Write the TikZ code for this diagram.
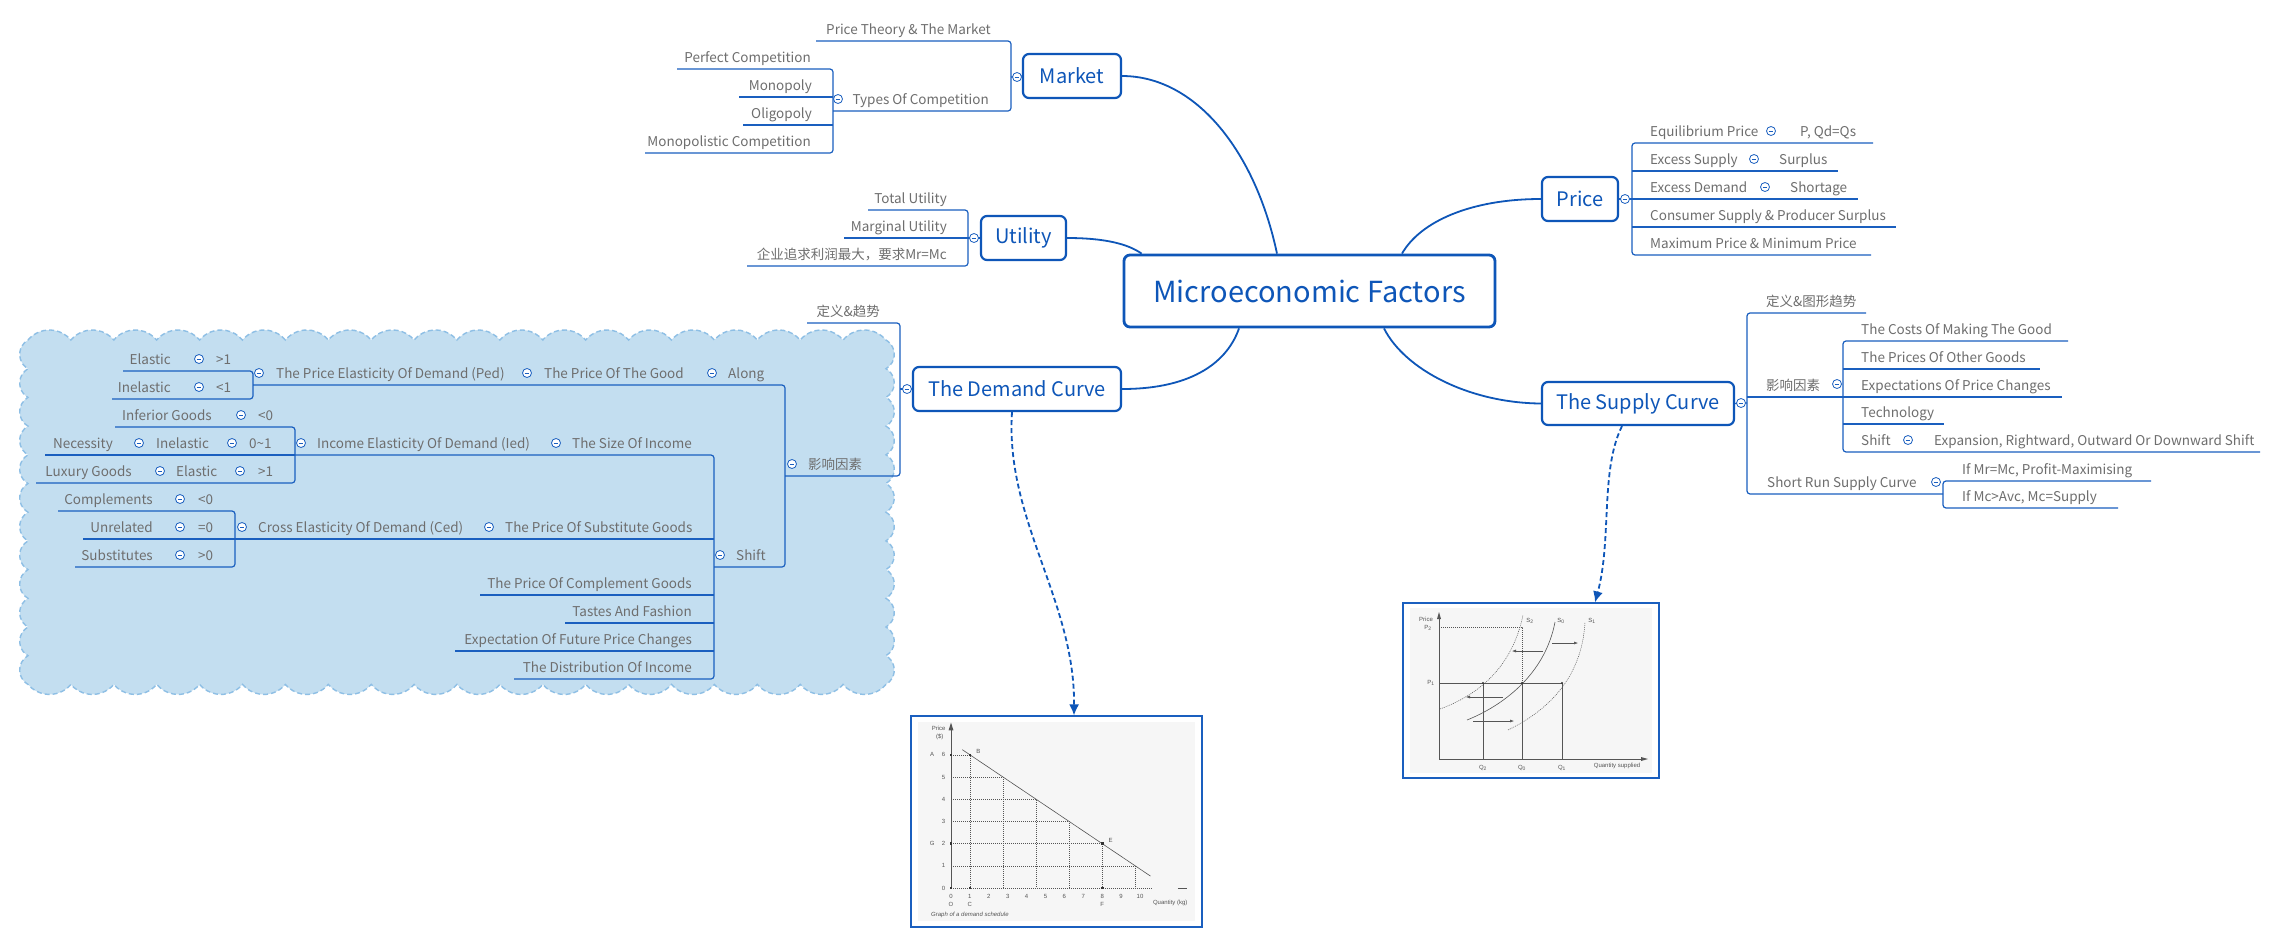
\documentclass[tikz,border=0pt]{standalone}
\usepackage{fontspec}
\setmainfont{Noto Sans CJK SC}
\newfontfamily\graphfont{Liberation Sans}
\usetikzlibrary{arrows.meta}
\definecolor{topicblue}{HTML}{0E56B8}
\definecolor{lineblue}{HTML}{1A5FBF}
\definecolor{txtgrey}{HTML}{6E6E6E}
\definecolor{cloudfill}{HTML}{C3DEF0}
\definecolor{cloudline}{HTML}{8EBFE5}
\definecolor{graphline}{HTML}{555555}
\definecolor{graphbg}{HTML}{F6F6F6}
\tikzset{
  topic/.style={draw=topicblue, line width=2.2pt, rounded corners=6pt, text=topicblue,
    font=\fontsize{20}{24}\selectfont, inner sep=0pt, fill=white},
  centraltopic/.style={topic, line width=2.8pt, font=\fontsize{29}{34}\selectfont},
  conn/.style={draw=topicblue, line width=1.8pt},
  br/.style={draw=lineblue, line width=1.2pt},
  brr/.style={br, rounded corners=3pt},
  lt/.style={anchor=base east, inner sep=0pt, text=txtgrey, font=\fontsize{13.5}{16}\selectfont},
  rt/.style={anchor=base west, inner sep=0pt, text=txtgrey, font=\fontsize{13.5}{16}\selectfont},
  coll/.style={circle, draw=lineblue, line width=0.8pt, fill=white, minimum size=9pt, inner sep=0pt,
    path picture={\draw[lineblue, line width=0.8pt] ([xshift=-2.4pt]path picture bounding box.center) -- ([xshift=2.4pt]path picture bounding box.center);}},
  dashconn/.style={draw=topicblue, line width=1.8pt, dash pattern=on 5pt off 3pt, -{Latex[length=11pt,width=10pt]}},
  gl/.style={draw=graphline, line width=0.5pt},
  gd/.style={draw=graphline, line width=0.5pt, dash pattern=on 1pt off 1pt},
  gt/.style={inner sep=0pt, text=graphline, font=\graphfont\fontsize{6}{7}\selectfont},
  imgbox/.style={draw=lineblue, line width=1.2pt, fill=white},
}
\begin{document}
\begin{tikzpicture}[x=1pt,y=-1pt]
\useasboundingbox[fill=white] (0,0) rectangle (2276,943);

% ---------- cloud ----------
\draw[draw=cloudline, fill=cloudfill, line width=1.4pt, dash pattern=on 5pt off 3pt]
  (28,340) foreach \i in {1,...,20}{ arc[start angle=220, end angle=320, radius=28] }
  foreach \i in {1,...,12}{ arc[start angle=-60, end angle=60, radius=16.57] }
  foreach \i in {1,...,20}{ arc[start angle=40, end angle=140, radius=28] }
  foreach \i in {1,...,12}{ arc[start angle=120, end angle=240, radius=16.57] } -- cycle;

% ---------- topics ----------
\node[centraltopic, minimum width=371pt, minimum height=72pt] (central) at (1309.5,291) {Microeconomic Factors};
\node[topic, minimum width=98pt, minimum height=44pt] (market) at (1072,76) {Market};
\node[topic, minimum width=85pt, minimum height=44pt] (utility) at (1023.5,238) {Utility};
\node[topic, minimum width=76pt, minimum height=44pt] (price) at (1580,199) {Price};
\node[topic, minimum width=208pt, minimum height=44pt] (demand) at (1017,389) {The Demand Curve};
\node[topic, minimum width=192pt, minimum height=43pt] (supply) at (1638,403.5) {The Supply Curve};

% ---------- main connectors ----------
\draw[conn] (market.east) .. controls (1195,76) and (1255,150) .. ([xshift=-32.5pt]central.north);
\draw[conn] (price.west) .. controls (1470,199) and (1420,222) .. ([xshift=92.5pt]central.north);
\draw[conn] (utility.east) .. controls (1105,238) and (1128,244) .. ([xshift=19pt]central.north west);
\draw[conn] (demand.east) .. controls (1195,389) and (1228,360) .. ([xshift=-70.5pt]central.south);
\draw[conn] ([xshift=74.5pt]central.south) .. controls (1405,370) and (1470,403) .. (supply.west);

% ---------- image boxes ----------
\node[imgbox, minimum width=291pt, minimum height=211pt, inner sep=0pt] (dgraph) at (1056.5,821.5) {};
\node[imgbox, minimum width=256pt, minimum height=175pt, inner sep=0pt] (sgraph) at (1531,690.5) {};
\fill[graphbg] (918,722) rectangle (1195,921);
\fill[graphbg] (1410,608) rectangle (1652,773);

\draw[dashconn] ([xshift=-5pt]demand.south) .. controls (1005,520) and (1075,600) .. ([xshift=17.5pt]dgraph.north);
\draw[dashconn] ([xshift=-16pt]supply.south) .. controls (1600,470) and (1612,540) .. ([xshift=64pt]sgraph.north);

% ---------- Market branch ----------
\draw[brr] (816,41) -- (1011,41) -- (1011,111) -- (833,111);
\draw[br] (1011,77) -- (market.west);
\draw[brr] (677,69) -- (833,69) -- (833,153) -- (645,153);
\draw[br] (739,97) -- (833,97);
\draw[br] (743,125) -- (833,125);
\node[lt] (m1) at (991,34) {Price Theory \& The Market};
\node[lt] (m2) at (989,104) {Types Of Competition};
\node[lt] (m3) at (811,62) {Perfect Competition};
\node[lt] (m4) at (812,90) {Monopoly};
\node[lt] (m5) at (812,118) {Oligopoly};
\node[lt] (m6) at (811,146) {Monopolistic Competition};
\node[coll] (cm1) at (1017,77) {};
\node[coll] (cm2) at (838,99) {};

% ---------- Utility branch ----------
\draw[brr] (868,210) -- (968,210) -- (968,266) -- (747,266);
\draw[br] (844,238) -- (utility.west);
\node[lt] (u1) at (947,203) {Total Utility};
\node[lt] (u2) at (947,231) {Marginal Utility};
\node[lt] (u3) at (947,259) {企业追求利润最大，要求Mr=Mc};
\node[coll] (cu1) at (974,238) {};

% ---------- Demand branch ----------
\draw[brr] (807,323) -- (900,323) -- (900,476) -- (785,476);
\draw[br] (900,389) -- (demand.west);
\draw[brr] (253,385) -- (785,385) -- (785,567) -- (714,567);
\draw[brr] (123,371) -- (253,371) -- (253,399) -- (112,399);
\draw[brr] (295,455) -- (714,455) -- (714,679) -- (514,679);
\draw[br] (480,595) -- (714,595);
\draw[br] (565,623) -- (714,623);
\draw[br] (455,651) -- (714,651);
\draw[br] (83,539) -- (714,539);
\draw[brr] (115,427) -- (295,427) -- (295,483) -- (36,483);
\draw[br] (45,455) -- (295,455);
\draw[brr] (58,511) -- (235,511) -- (235,567) -- (75,567);

\node[lt] (d1) at (880,316) {定义\&趋势};
\node[rt] (d2) at (808,469) {影响因素};
\node[rt] (d3) at (728,378) {Along};
\node[rt] (d4) at (544,378) {The Price Of The Good};
\node[rt] (d5) at (276,378) {The Price Elasticity Of Demand (Ped)};
\node[lt] (e1) at (171,364) {Elastic};
\node[rt] (e1b) at (216,364) {>1};
\node[lt] (e2) at (171,392) {Inelastic};
\node[rt] (e2b) at (216,392) {<1};
\node[lt] (i1) at (212,420) {Inferior Goods};
\node[rt] (i1b) at (258,420) {<0};
\node[lt] (i2) at (113,448) {Necessity};
\node[rt] (i2b) at (156,448) {Inelastic};
\node[rt] (i2c) at (249,448) {0\textasciitilde 1};
\node[lt] (i3) at (132,476) {Luxury Goods};
\node[rt] (i3b) at (176,476) {Elastic};
\node[rt] (i3c) at (258,476) {>1};
\node[rt] (d6) at (317,448) {Income Elasticity Of Demand (Ied)};
\node[rt] (d7) at (572,448) {The Size Of Income};
\node[lt] (k1) at (153,504) {Complements};
\node[rt] (k1b) at (198,504) {<0};
\node[lt] (k2) at (153,532) {Unrelated};
\node[rt] (k2b) at (198,532) {=0};
\node[lt] (k3) at (153,560) {Substitutes};
\node[rt] (k3b) at (198,560) {>0};
\node[rt] (d8) at (258,532) {Cross Elasticity Of Demand (Ced)};
\node[rt] (d9) at (505,532) {The Price Of Substitute Goods};
\node[rt] (d10) at (736,560) {Shift};
\node[lt] (d11) at (692,588) {The Price Of Complement Goods};
\node[lt] (d12) at (692,616) {Tastes And Fashion};
\node[lt] (d13) at (692,644) {Expectation Of Future Price Changes};
\node[lt] (d14) at (692,672) {The Distribution Of Income};

\foreach \cx/\cy [count=\n] in {907/389, 792/464, 712/373, 527/373, 259/373, 199/359, 199/387,
  241/415, 139/443, 232/443, 301/443, 556/443, 160/471, 240/471, 180/499, 180/527, 242/527,
  489/527, 180/555, 720/555}
  \node[coll] (cd\n) at (\cx,\cy) {};

% ---------- Price branch ----------
\draw[brr] (1873,143) -- (1632,143) -- (1632,255) -- (1871,255);
\draw[br] (1632,171) -- (1838,171);
\draw[br] (price.east) -- (1858,199);
\draw[br] (1632,227) -- (1896,227);
\node[rt] (p1) at (1650,136) {Equilibrium Price};
\node[rt] (p1b) at (1800,136) {P, Qd=Qs};
\node[rt] (p2) at (1650,164) {Excess Supply};
\node[rt] (p2b) at (1779,164) {Surplus};
\node[rt] (p3) at (1650,192) {Excess Demand};
\node[rt] (p3b) at (1790,192) {Shortage};
\node[rt] (p4) at (1650,220) {Consumer Supply \& Producer Surplus};
\node[rt] (p5) at (1650,248) {Maximum Price \& Minimum Price};
\foreach \cx/\cy [count=\n] in {1625/199, 1771/131, 1754/159, 1765/187}
  \node[coll] (cp\n) at (\cx,\cy) {};

% ---------- Supply branch ----------
\draw[brr] (1866,313) -- (1747,313) -- (1747,494) -- (1943,494);
\draw[br] (supply.east) -- (1747,403);
\draw[br] (1747,397) -- (1843,397);
\draw[brr] (2068,341) -- (1843,341) -- (1843,452) -- (2260,452);
\draw[br] (1843,369) -- (2040,369);
\draw[br] (1843,397) -- (2062,397);
\draw[br] (1843,424) -- (1944,424);
\draw[brr] (2151,481) -- (1943,481) -- (1943,508) -- (2118,508);
\node[rt] (s1) at (1766,306) {定义\&图形趋势};
\node[rt] (s2) at (1766,390) {影响因素};
\node[rt] (s3) at (1861,334) {The Costs Of Making The Good};
\node[rt] (s4) at (1861,362) {The Prices Of Other Goods};
\node[rt] (s5) at (1861,390) {Expectations Of Price Changes};
\node[rt] (s6) at (1861,417) {Technology};
\node[rt] (s7) at (1861,445) {Shift};
\node[rt] (s7b) at (1934,445) {Expansion, Rightward, Outward Or Downward Shift};
\node[rt] (s8) at (1767,487) {Short Run Supply Curve};
\node[rt] (s9) at (1962,474) {If Mr=Mc, Profit-Maximising};
\node[rt] (s10) at (1962,501) {If Mc>Avc, Mc=Supply};
\foreach \cx/\cy [count=\n] in {1741/403, 1837/384, 1908/440, 1936/482}
  \node[coll] (cs\n) at (\cx,\cy) {};

% ---------- demand schedule graph ----------
\begin{scope}[shift={(951,888)}, x=18.9pt, y=22.2pt]
  \draw[gd] (0,6) -- (1,6) -- (1,0);
  \draw[gd] (0,5) -- (2.75,5) -- (2.75,0);
  \draw[gd] (0,4) -- (4.5,4) -- (4.5,0);
  \draw[gd] (0,3) -- (6.25,3) -- (6.25,0);
  \draw[gd] (0,2) -- (8,2) -- (8,0);
  \draw[gd] (0,1) -- (9.75,1) -- (9.75,0);
  \draw[gd] (0,0) -- (10.6,0);
  \draw[gl] (12.0,0) -- (12.5,0);
  \draw[gl] (0,0) -- (0,7.2);
  \fill[graphline] (0,7.45) -- (-0.13,7.1) -- (0.13,7.1) -- cycle;
  \draw[gl, line width=0.6pt] (0.6,6.23) -- (10.55,0.54);
  \foreach \px/\py in {1/6, 8/2, 0/6, 0/2, 1/0, 8/0, 0/0}
    \fill[black!80] (\px,\py) +(-1.3pt,-1.3pt) rectangle +(1.3pt,1.3pt);
  \foreach \v in {0,...,6} \node[gt] at (-0.4,\v) {\v};
  \foreach \v in {0,...,10} \node[gt] at (\v,-0.4) {\v};
  \node[gt] at (-1.0,6) {A};
  \node[gt] at (-1.0,2) {G};
  \node[gt] at (0,-0.72) {O};
  \node[gt] at (1,-0.72) {C};
  \node[gt] at (8,-0.72) {F};
  \node[gt] at (1.45,6.15) {B};
  \node[gt] at (8.45,2.15) {E};
  \node[gt] at (-0.65,7.2) {Price};
  \node[gt] at (-0.6,6.8) {(\$)};
  \node[gt] at (11.6,-0.68) {Quantity (kg)};
  \node[gt, font=\graphfont\itshape\fontsize{6}{7}\selectfont] at (1.0,-1.22) {Graph of a demand schedule};
\end{scope}

% ---------- supply shift graph ----------
\draw[gl] (1439,759) -- (1439,617);
\fill[graphline] (1439,612) -- (1437,619) -- (1441,619) -- cycle;
\draw[gl] (1439,759) -- (1642,759);
\fill[graphline] (1648,759) -- (1641,757) -- (1641,761) -- cycle;
\draw[gd] (1439,627) -- (1522,627) -- (1522,683);
\draw[gl] (1439,683) -- (1562,683);
\draw[gl] (1483,683) -- (1483,759);
\draw[gl] (1522,683) -- (1522,759);
\draw[gl] (1562,683) -- (1562,759);
\draw[gl, line width=0.6pt] (1467,720) .. controls (1502,706) and (1545,675) .. (1555,622);
\draw[gd] (1440,709) .. controls (1478,695) and (1512,668) .. (1523,615);
\draw[gd] (1508,730) .. controls (1545,712) and (1582,680) .. (1585,622);
\foreach \qx in {1483,1522,1562} \fill[black!80] (\qx,683) circle (1.2pt);
\draw[gl, -{Latex[length=4pt,width=3pt]}] (1552,643) -- (1578,643);
\draw[gl, -{Latex[length=4pt,width=3pt]}] (1543,651) -- (1512,651);
\draw[gl, -{Latex[length=4pt,width=3pt]}] (1503,697) -- (1466,697);
\draw[gl, -{Latex[length=4pt,width=3pt]}] (1473,721) -- (1514,721);
\node[gt] at (1426,619) {Price};
\node[gt] at (1428,628) {P\textsubscript{2}};
\node[gt] at (1431,683) {P\textsubscript{1}};
\node[gt] at (1530,621) {S\textsubscript{2}};
\node[gt] at (1561,621) {S\textsubscript{0}};
\node[gt] at (1592,621) {S\textsubscript{1}};
\node[gt] at (1483,768) {Q\textsubscript{2}};
\node[gt] at (1522,768) {Q\textsubscript{0}};
\node[gt] at (1562,768) {Q\textsubscript{1}};
\node[gt] at (1617,766) {Quantity supplied};
\end{tikzpicture}
\end{document}
